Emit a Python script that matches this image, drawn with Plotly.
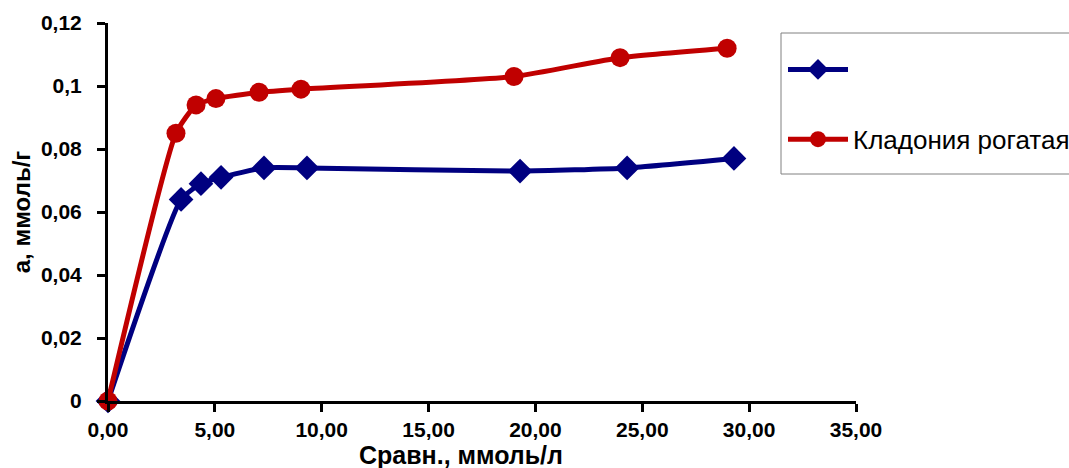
import plotly.graph_objects as go

# Data
blue_x = [0.0, 3.42, 4.35, 5.29, 7.30, 9.31, 19.28, 24.29, 29.29]
blue_y = [0.0, 0.064, 0.069, 0.071, 0.074, 0.074, 0.073, 0.074, 0.077]
red_x = [0.0, 3.18, 4.12, 5.05, 7.07, 9.03, 19.00, 23.96, 28.97]
red_y = [0.0, 0.085, 0.094, 0.096, 0.098, 0.099, 0.103, 0.109, 0.112]

blue_name = ""
red_name = "Кладония рогатая"

x_tickvals = [0, 5, 10, 15, 20, 25, 30, 35]
x_ticktext = ["0,00", "5,00", "10,00", "15,00", "20,00", "25,00", "30,00", "35,00"]
y_tickvals = [0, 0.02, 0.04, 0.06, 0.08, 0.10, 0.12]
y_ticktext = ["0", "0,02", "0,04", "0,06", "0,08", "0,1", "0,12"]

x_title = "Сравн., ммоль/л"
y_title = "а, ммоль/г"

BLUE = "#000080"
RED = "#C00000"
FONT = "Liberation Sans"

W, H = 1069, 468
L, R, T, B = 108, 856, 23, 401  # plot area in pixels
PW, PH = R - L, B - T


def px_x(p):
    return (p - L) / PW


def px_y(p):
    return (B - p) / PH


fig = go.Figure()
fig.add_trace(go.Scatter(
    x=blue_x, y=blue_y, name=blue_name, mode="lines+markers",
    line=dict(color=BLUE, width=5, shape="spline", smoothing=0.5),
    marker=dict(symbol="diamond", size=19, color=BLUE),
    legendgroup="b", cliponaxis=False,
))
fig.add_trace(go.Scatter(
    x=red_x, y=red_y, name=red_name, mode="lines+markers",
    line=dict(color=RED, width=5, shape="spline", smoothing=0.5),
    marker=dict(symbol="circle", size=19, color=RED),
    legendgroup="r", cliponaxis=False,
))

fig.update_layout(
    width=W, height=H,
    margin=dict(l=L, r=W - R, t=T, b=H - B, autoexpand=False),
    paper_bgcolor="white", plot_bgcolor="white",
    font=dict(family=FONT, color="black"),
    showlegend=True,
    legend=dict(
        x=px_x(783), y=px_y(46), xanchor="left", yanchor="top",
        borderwidth=0, bgcolor="rgba(0,0,0,0)",
        font=dict(family=FONT, size=26, color="black"),
        traceorder="grouped", tracegroupgap=33,
        itemwidth=60,
    ),
    shapes=[dict(
        type="rect", xref="paper", yref="paper",
        x0=px_x(781), x1=px_x(1080), y0=px_y(174), y1=px_y(33),
        line=dict(color="#808080", width=1), fillcolor="rgba(0,0,0,0)",
        layer="below",
    )],
    xaxis=dict(
        range=[0, 35], showgrid=False, zeroline=False,
        showline=True, linecolor="black", linewidth=3,
        ticks="outside", ticklen=8, tickwidth=3, tickcolor="black",
        tickvals=x_tickvals, ticktext=x_ticktext,
        tickfont=dict(family=FONT, size=21, color="black", weight="bold"),
    ),
    yaxis=dict(
        range=[0, 0.12], showgrid=False, zeroline=False,
        showline=True, linecolor="black", linewidth=3,
        ticks="outside", ticklen=8, tickwidth=3, tickcolor="black",
        tickvals=y_tickvals, ticktext=y_ticktext, ticklabelstandoff=11,
        tickfont=dict(family=FONT, size=21, color="black", weight="bold"),
        title=dict(text=y_title, standoff=4,
                   font=dict(family=FONT, size=24, color="black", weight="bold")),
    ),
    annotations=[dict(
        text=x_title, xref="paper", yref="paper",
        x=px_x(461), y=px_y(455),
        xanchor="center", yanchor="middle", showarrow=False,
        font=dict(family=FONT, size=25, color="black", weight="bold"),
    )],
)

fig.write_html(
    "out.html",
    config={"displayModeBar": False},
    post_script="document.body.style.margin='0';document.body.style.overflow='hidden';",
)
